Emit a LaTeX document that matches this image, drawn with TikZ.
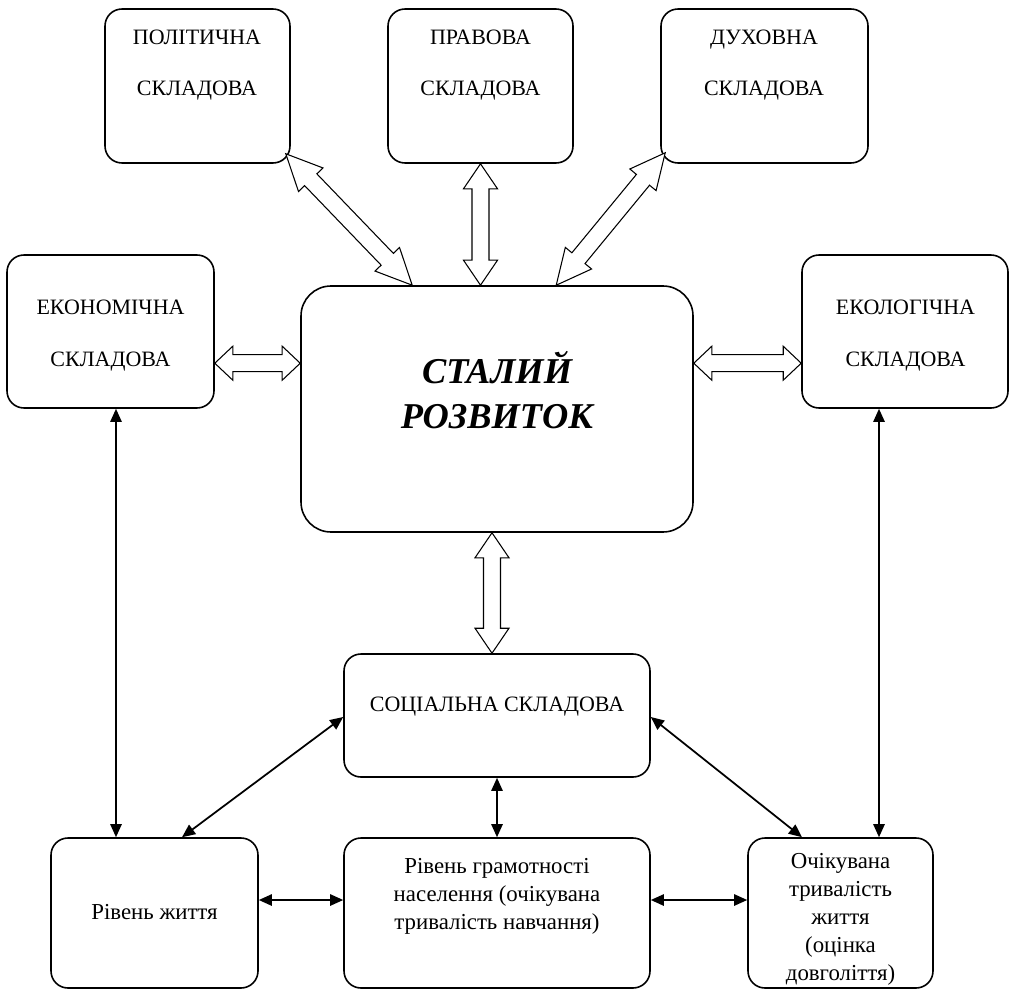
\documentclass[tikz,border=0pt]{standalone}
\usepackage{fontspec}
\setmainfont{Liberation Serif}
\usetikzlibrary{calc,fit,arrows.meta}
\tikzset{
 box/.style={draw, line width=0.9pt, rounded corners=0.34cm, inner sep=0pt},
 bigbox/.style={box, rounded corners=0.6cm},
 lbl/.style={font=\fontsize{12.5}{29.5}\selectfont, align=center, inner sep=0pt},
 sm/.style={font=\fontsize{13}{15.9}\selectfont, align=center, inner sep=0pt},
 big/.style={font=\fontsize{20.7}{26}\selectfont\bfseries\itshape, align=center, inner sep=0pt},
 thin/.style={line width=1pt, {Triangle[length=7.5pt,width=6.5pt]}-{Triangle[length=7.5pt,width=6.5pt]}},
 blk/.style={draw, line width=0.6pt, fill=white, line join=miter}
}
\newcommand\blockarrow[3]{%
 \draw[blk] (#1) -- ($(#1)!#3!(#2)!0.34cm!90:(#2)$) -- ($(#1)!#3!(#2)!0.17cm!90:(#2)$)
  -- ($(#2)!#3!(#1)!0.17cm!-90:(#1)$) -- ($(#2)!#3!(#1)!0.34cm!-90:(#1)$) -- (#2)
  -- ($(#2)!#3!(#1)!0.34cm!90:(#1)$) -- ($(#2)!#3!(#1)!0.17cm!90:(#1)$)
  -- ($(#1)!#3!(#2)!0.17cm!-90:(#2)$) -- ($(#1)!#3!(#2)!0.34cm!-90:(#2)$) -- cycle;}
\begin{document}
\begin{tikzpicture}[x=0.02cm,y=-0.02cm]
\useasboundingbox (0,0) rectangle (1010,990);
% boxes
\node[box, fit={(105,9)(290,163)}] (pol) {};
\node[box, fit={(388,9)(573,163)}] (prav) {};
\node[box, fit={(661,9)(868,163)}] (dux) {};
\node[box, fit={(7,255)(214,408)}] (eko) {};
\node[bigbox, fit={(301,286)(693,532)}] (stal) {};
\node[box, fit={(802,255)(1008,408)}] (ekl) {};
\node[box, fit={(344,654)(650,777)}] (soc) {};
\node[box, fit={(51,838)(258,988)}] (zh) {};
\node[box, fit={(344,838)(650,988)}] (gr) {};
\node[box, fit={(748,838)(933,988)}] (och) {};
% texts
\node[lbl] (polt) at (197,65) {ПОЛІТИЧНА\\СКЛАДОВА};
\node[lbl] (pravt) at (480.5,65) {ПРАВОВА\\СКЛАДОВА};
\node[lbl] (duxt) at (764,65) {ДУХОВНА\\СКЛАДОВА};
\node[lbl] (ekot) at (110.5,335.5) {ЕКОНОМІЧНА\\СКЛАДОВА};
\node[lbl] (eklt) at (905.5,335.5) {ЕКОЛОГІЧНА\\СКЛАДОВА};
\node[big] (stalt) at (497,390) {СТАЛИЙ\\РОЗВИТОК};
\node[lbl] (soct) at (497,707) {СОЦІАЛЬНА СКЛАДОВА};
\node[sm] (zht) at (154.5,912) {Рівень життя};
\node[sm] (grt) at (497,896) {Рівень грамотності\\населення (очікувана\\тривалість навчання)};
\node[sm] (ocht) at (840.5,919) {Очікувана\\тривалість\\життя\\(оцінка\\довголіття)};
% block arrow ends
\coordinate (p1) at ($(pol.south east)+(-5,-10)$);
\coordinate (p2) at ($(stal.north west)+(112,0)$);
\coordinate (q1) at (prav.south);
\coordinate (q2) at (prav.south |- stal.north);
\coordinate (d1) at ($(dux.south west)+(5,-11)$);
\coordinate (d2) at ($(stal.north west)+(256,0)$);
\coordinate (e1) at ($(eko.north east)+(0,109)$);
\coordinate (e2) at (e1 -| stal.west);
\coordinate (k1) at ($(stal.north east)+(0,78)$);
\coordinate (k2) at (k1 -| ekl.west);
\coordinate (s1) at ($(stal.south)+(-5,0)$);
\coordinate (s2) at (s1 |- soc.north);
\blockarrow{p1}{p2}{0.72cm}
\blockarrow{q1}{q2}{0.5cm}
\blockarrow{d1}{d2}{0.7cm}
\blockarrow{e1}{e2}{0.36cm}
\blockarrow{k1}{k2}{0.36cm}
\blockarrow{s1}{s2}{0.5cm}
% thin arrows
\draw[thin] ($(eko.south)+(5.5,0)$) coordinate (t1) -- (t1 |- zh.north);
\draw[thin] ($(ekl.south)+(-26,0)$) coordinate (t2) -- (t2 |- och.north);
\draw[thin] ($(soc.west)+(0,1.5)$) -- ($(zh.north)+(27.5,0)$);
\draw[thin] ($(soc.east)+(0,1.5)$) -- ($(och.north)+(-38.5,0)$);
\draw[thin] (soc.south) -- (gr.north);
\draw[thin] ($(zh.east)+(0,-13)$) coordinate (t3) -- (t3 -| gr.west);
\draw[thin] ($(gr.east)+(0,-13)$) coordinate (t4) -- (t4 -| och.west);
\end{tikzpicture}
\end{document}
